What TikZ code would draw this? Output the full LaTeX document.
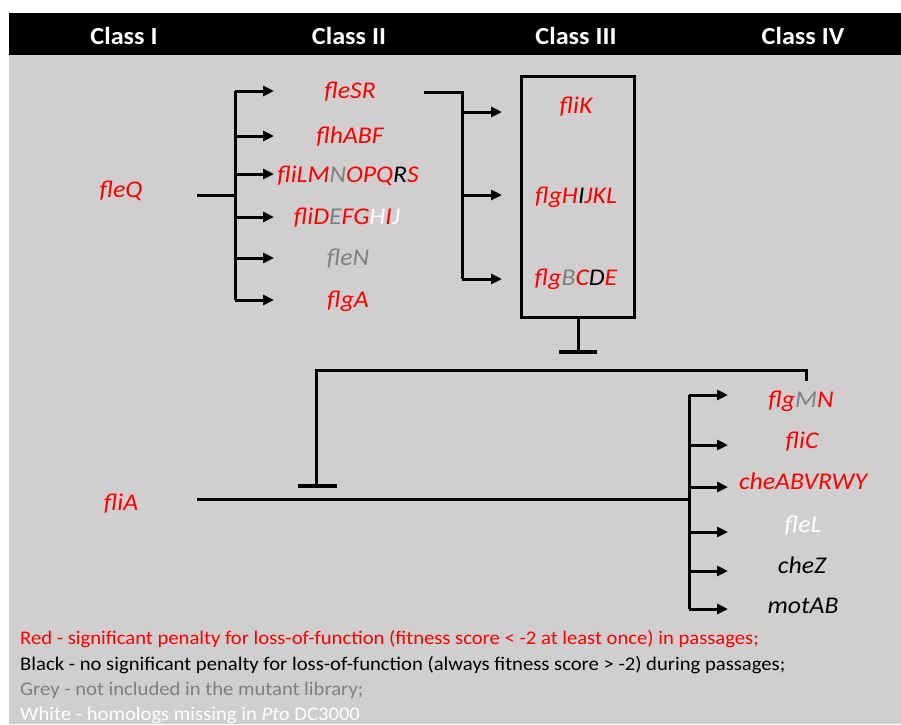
\documentclass[tikz,border=0pt]{standalone}
\usepackage{fontspec}
\setmainfont{Carlito}[FakeStretch=1.07]
\usetikzlibrary{arrows.meta}
\definecolor{bgc}{HTML}{D0CECE}
\definecolor{gred}{HTML}{FF0000}
\definecolor{ggrey}{HTML}{808080}
\newcommand\cR[1]{\textcolor{gred}{#1}}
\newcommand\cK[1]{\textcolor{black}{#1}}
\newcommand\cG[1]{\textcolor{ggrey}{#1}}
\newcommand\cW[1]{\textcolor{white}{#1}}
\begin{document}
\begin{tikzpicture}[x=1pt,y=-1pt,
  hdr/.style={text=white,font=\fontsize{24.5}{28}\selectfont\bfseries,inner sep=0pt,anchor=base},
  gene/.style={font=\fontsize{24}{28}\selectfont\itshape,inner sep=0pt,anchor=base},
  leg/.style={font=\fontsize{19.3}{22}\selectfont,inner sep=0pt,anchor=base west},
  wire/.style={line width=3pt,black},
  arr/.style={wire,-{Triangle[length=11pt,width=10pt]}},
  tbar/.style={line width=3.5pt,black}]
\useasboundingbox (0,0) rectangle (901,724);
\fill[white] (0,0) rectangle (901,724);
\fill[black] (9,13) rectangle (901,55);
\fill[bgc] (9,55) rectangle (901,724);
% headers
\node[hdr] (h1) at (124,44) {Class I};
\node[hdr] (h2) at (349,44) {Class II};
\node[hdr] (h3) at (576,44) {Class III};
\node[hdr] (h4) at (803,44) {Class IV};
% class I
\node[gene,text=gred] (fleQ) at (121,197) {fleQ};
\node[gene,text=gred] (fliA) at (121,510) {fliA};
% class II
\node[gene] (fleSR) at (350,98) {\cR{fleSR}};
\node[gene] (flhABF) at (350,143) {\cR{flhABF}};
\node[gene] (fliLMN) at (348,182) {\cR{fliLM}\cG{N}\cR{OPQ}\cK{R}\cR{S}};
\node[gene] (fliDEF) at (347,224) {\cR{fliD}\cG{E}\cR{FG}\cW{H}\cR{I}\cW{J}};
\node[gene] (fleN) at (348,265) {\cG{fleN}};
\node[gene] (flgA) at (348,307) {\cR{flgA}};
% class III box
\node[draw,line width=3pt,minimum width=113pt,minimum height=241pt,inner sep=0pt] (box) at (578,196.5) {};
\node[gene] (fliK) at (576,113) {\cR{fliK}};
\node[gene] (flgHIJ) at (576,203) {\cR{flgH}\cK{I}\cR{JKL}};
\node[gene] (flgBCD) at (576,285) {\cR{flg}\cG{B}\cR{C}\cK{D}\cR{E}};
% class IV
\node[gene] (flgMN) at (801,407) {\cR{flg}\cG{M}\cR{N}};
\node[gene] (fliC) at (802,448) {\cR{fliC}};
\node[gene] (cheAB) at (803,489) {\cR{cheABVRWY}};
\node[gene] (fleL) at (803,532) {\cW{fleL}};
\node[gene] (cheZ) at (802,573) {\cK{cheZ}};
\node[gene] (motAB) at (803,613) {\cK{motAB}};
% fleQ cascade
\coordinate (q0) at (197,195);
\coordinate (qv) at (235,195);
\draw[wire] (q0) -- (qv);
\draw[wire] (235,91) -- (235,300);
\foreach \y/\n in {91/a1,136/a2,174/a3,217/a4,258/a5,300/a6}{
  \coordinate (\n s) at (235,\y);
  \coordinate (\n e) at (274,\y);
  \draw[arr] (\n s) -- (\n e);
}
% fleSR to class III
\coordinate (r0) at (424,92);
\coordinate (r1) at (462,92);
\coordinate (r2) at (462,279);
\draw[wire] (r0) -- (r1) -- (r2);
\foreach \y/\n in {112/b1,195/b2,279/b3}{
  \coordinate (\n s) at (462,\y);
  \coordinate (\n e) at (502,\y);
  \draw[arr] (\n s) -- (\n e);
}
% box inhibition
\coordinate (t1) at (578,352);
\draw[wire] (box.south) -- (t1);
\draw[tbar] (559,352) -- (597,352);
% FlgM inhibition of FliA
\coordinate (m0) at (806,381);
\coordinate (m1) at (806,370);
\coordinate (m2) at (316,370);
\coordinate (m3) at (316,486);
\draw[wire,line join=miter] (m0) -- (m1) -- (m2) -- (m3);
\draw[tbar] (298,486) -- (337,486);
% fliA cascade
\coordinate (f0) at (197,499);
\coordinate (f1) at (689,499);
\draw[wire] (f0) -- (f1);
\draw[wire] (689,395) -- (689,609);
\foreach \y/\n in {395/c1,445/c2,487/c3,532/c4,571/c5,609/c6}{
  \coordinate (\n s) at (689,\y);
  \coordinate (\n e) at (728,\y);
  \draw[arr] (\n s) -- (\n e);
}
% legend
\node[leg,text=gred] (l1) at (20,644) {Red - significant penalty for loss-of-function (fitness score < -2 at least once) in passages;};
\node[leg,text=black] (l2) at (20,670) {Black - no significant penalty for loss-of-function (always fitness score > -2) during passages;};
\node[leg,text=ggrey] (l3) at (20,695) {Grey - not included in the mutant library;};
\node[leg,text=white] (l4) at (20,720) {White - homologs missing in \textit{Pto} DC3000};
\end{tikzpicture}
\end{document}
